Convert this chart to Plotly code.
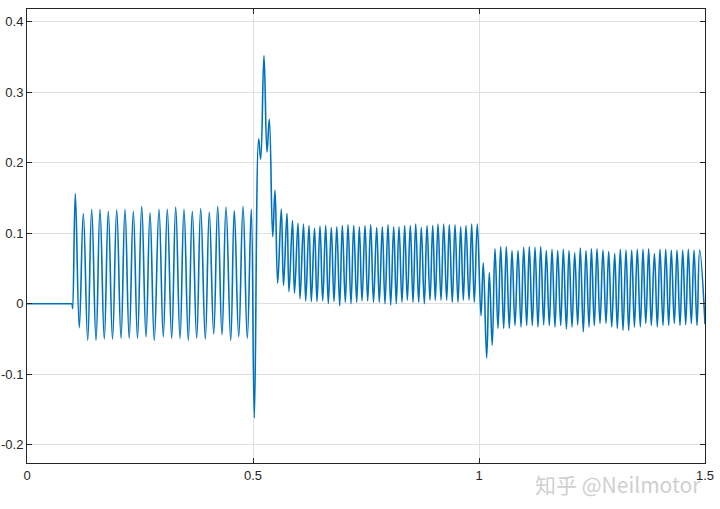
import plotly.graph_objects as go

# ---- data (time in s, signal value) ----
t_idle = [0.0, 0.1]
y_idle = [0.0, 0.0]

t_start = [0.1, 0.1012]
y_start = [0.0, -0.007]

t_seg1_pk = [0.1069, 0.1246, 0.1431, 0.1615, 0.1799, 0.1985, 0.2168, 0.2352, 0.2538, 0.2721, 0.2920,
             0.3104, 0.3290, 0.3473, 0.3657, 0.3843, 0.4033, 0.4219, 0.4403, 0.4586, 0.4779, 0.4962]
y_seg1_pk = [0.156, 0.128, 0.134, 0.134, 0.131, 0.133, 0.134, 0.131, 0.138, 0.129, 0.134,
             0.134, 0.137, 0.134, 0.131, 0.135, 0.130, 0.138, 0.137, 0.132, 0.138, 0.134]
t_seg1_tr = [0.1157, 0.1343, 0.1527, 0.1710, 0.1892, 0.2080, 0.2261, 0.2445, 0.2633, 0.2816, 0.3015,
             0.3201, 0.3385, 0.3569, 0.3754, 0.3945, 0.4131, 0.4314, 0.4507, 0.4684, 0.4874]
y_seg1_tr = [-0.034, -0.052, -0.052, -0.050, -0.050, -0.049, -0.049, -0.049, -0.047, -0.052, -0.047,
             -0.049, -0.049, -0.052, -0.049, -0.050, -0.043, -0.044, -0.052, -0.047, -0.049]

t_jump1 = [0.5029, 0.5126, 0.5170, 0.5243, 0.5310, 0.5361, 0.5436, 0.5487]
y_jump1 = [-0.162, 0.234, 0.205, 0.352, 0.215, 0.262, 0.095, 0.161]

t_seg2_tr = [0.5546, 0.5675, 0.5796, 0.5918, 0.6040, 0.6166, 0.6290, 0.6416, 0.6542, 0.6666, 0.6792, 0.6918,
             0.7042, 0.7168, 0.7294, 0.7412, 0.7537, 0.7666, 0.7794, 0.7920, 0.8046, 0.8170, 0.8296, 0.8414,
             0.8540, 0.8666, 0.8790, 0.8916, 0.9033, 0.9159, 0.9285, 0.9409, 0.9535, 0.9653, 0.9779, 0.9896]
y_seg2_tr = [0.029, 0.026, 0.017, 0.015, 0.007, 0.004, 0.003, 0.003, 0.004, 0.000, 0.003, -0.003,
             0.002, 0.000, 0.002, 0.004, 0.004, 0.002, 0.002, 0.000, -0.002, 0.000, 0.002, 0.005,
             0.002, 0.002, 0.000, 0.005, 0.005, 0.005, 0.005, 0.002, 0.002, 0.005, 0.005, 0.002]
t_seg2_pk = [0.5626, 0.5752, 0.5874, 0.5996, 0.6117, 0.6239, 0.6361, 0.6482, 0.6608, 0.6732, 0.6854, 0.6976,
             0.7102, 0.7228, 0.7352, 0.7478, 0.7604, 0.7737, 0.7861, 0.7987, 0.8113, 0.8230, 0.8356, 0.8480,
             0.8600, 0.8723, 0.8850, 0.8976, 0.9093, 0.9219, 0.9343, 0.9469, 0.9595, 0.9712, 0.9838, 0.9962]
y_seg2_pk = [0.134, 0.128, 0.118, 0.114, 0.113, 0.111, 0.107, 0.110, 0.111, 0.108, 0.109, 0.111,
             0.112, 0.111, 0.109, 0.111, 0.112, 0.108, 0.109, 0.112, 0.109, 0.109, 0.111, 0.111,
             0.113, 0.108, 0.111, 0.111, 0.113, 0.113, 0.112, 0.112, 0.109, 0.111, 0.113, 0.113]

t_jump2 = [1.0044, 1.0095, 1.0170, 1.0228, 1.0292]
y_jump2 = [-0.017, 0.058, -0.077, 0.044, -0.059]

t_seg3_pk = [1.0354, 1.0480, 1.0604, 1.0730, 1.0863, 1.0989, 1.1113, 1.1239, 1.1365, 1.1489, 1.1615, 1.1741,
             1.1865, 1.1991, 1.2117, 1.2241, 1.2367, 1.2487, 1.2611, 1.2743, 1.2869, 1.3002, 1.3126, 1.3252,
             1.3378, 1.3502, 1.3628, 1.3754, 1.3881, 1.4004, 1.4131, 1.4254, 1.4381, 1.4507, 1.4631, 1.4757, 1.4883]
y_seg3_pk = [0.078, 0.081, 0.081, 0.0755, 0.0755, 0.080, 0.081, 0.080, 0.081, 0.0755, 0.077, 0.0755,
             0.077, 0.0755, 0.072, 0.079, 0.0755, 0.078, 0.078, 0.076, 0.074, 0.071, 0.077, 0.076,
             0.076, 0.077, 0.077, 0.078, 0.071, 0.077, 0.077, 0.076, 0.076, 0.076, 0.077, 0.076, 0.076]
t_seg3_tr = [1.0420, 1.0546, 1.0670, 1.0796, 1.0929, 1.1055, 1.1179, 1.1305, 1.1431, 1.1555, 1.1681, 1.1808,
             1.1934, 1.2058, 1.2184, 1.2308, 1.2434, 1.2551, 1.2677, 1.2810, 1.2936, 1.3060, 1.3186, 1.3312,
             1.3438, 1.3569, 1.3690, 1.3812, 1.3945, 1.4071, 1.4197, 1.4321, 1.4447, 1.4573, 1.4697, 1.4823, 1.5]
y_seg3_tr = [-0.035, -0.035, -0.035, -0.031, -0.033, -0.031, -0.031, -0.033, -0.030, -0.031, -0.033, -0.031,
             -0.036, -0.033, -0.030, -0.040, -0.033, -0.031, -0.028, -0.028, -0.033, -0.035, -0.038, -0.038,
             -0.033, -0.033, -0.028, -0.031, -0.033, -0.031, -0.031, -0.028, -0.031, -0.030, -0.028, -0.031, -0.029]

x_ticks = [0, 0.5, 1, 1.5]
x_tick_text = ["0", "0.5", "1", "1.5"]
y_ticks = [-0.2, -0.1, 0, 0.1, 0.2, 0.3, 0.4]
y_tick_text = ["-0.2", "-0.1", "0", "0.1", "0.2", "0.3", "0.4"]
watermark = "知乎 @Neilmotor"


def interleave(t_a, y_a, t_b, y_b):
    """Merge two alternating extremum lists in time order."""
    pts = sorted(list(zip(t_a, y_a)) + list(zip(t_b, y_b)))
    return [p[0] for p in pts], [p[1] for p in pts]


t1, y1 = interleave(t_seg1_pk, y_seg1_pk, t_seg1_tr, y_seg1_tr)
t2, y2 = interleave(t_seg2_tr, y_seg2_tr, t_seg2_pk, y_seg2_pk)
t3, y3 = interleave(t_seg3_pk, y_seg3_pk, t_seg3_tr, y_seg3_tr)

t_osc = t_start + t1 + t_jump1 + t2 + t_jump2 + t3
y_osc = y_start + y1 + y_jump1 + y2 + y_jump2 + y3

LINE_COLOR = "#0072BD"

fig = go.Figure()
fig.add_trace(go.Scatter(
    x=t_idle, y=y_idle, mode="lines",
    line=dict(color=LINE_COLOR, width=1.5),
    showlegend=False, hoverinfo="skip",
))
fig.add_trace(go.Scatter(
    x=t_osc, y=y_osc, mode="lines",
    line=dict(color=LINE_COLOR, width=1.6, shape="spline", smoothing=1.2),
    showlegend=False, hoverinfo="skip",
))

axis_common = dict(
    showline=True, linecolor="#262626", linewidth=1, mirror="ticks",
    ticks="inside", ticklen=5, tickcolor="#262626", tickwidth=1,
    showgrid=True, gridcolor="#dfdfdf", gridwidth=1, zeroline=False,
    automargin=False,
    tickfont=dict(family="Liberation Sans, Arial, sans-serif", size=13, color="#262626"),
)

fig.update_xaxes(range=[0, 1.5], tickvals=x_ticks, ticktext=x_tick_text, **axis_common)
fig.update_yaxes(range=[-0.226, 0.418], tickvals=y_ticks, ticktext=y_tick_text, **axis_common)

fig.add_annotation(
    text=watermark, xref="paper", yref="paper", x=0.997, y=-0.046,
    xanchor="right", yanchor="middle", showarrow=False,
    font=dict(family="Noto Sans CJK SC, sans-serif", size=21, color="rgba(165,165,165,0.55)"),
)

fig.update_layout(
    width=720, height=509,
    margin=dict(l=27, r=15, t=9, b=46),
    paper_bgcolor="white", plot_bgcolor="white",
)

fig.write_html("out.html", config={"displayModeBar": False},
               post_script="document.body.style.margin='0';")
